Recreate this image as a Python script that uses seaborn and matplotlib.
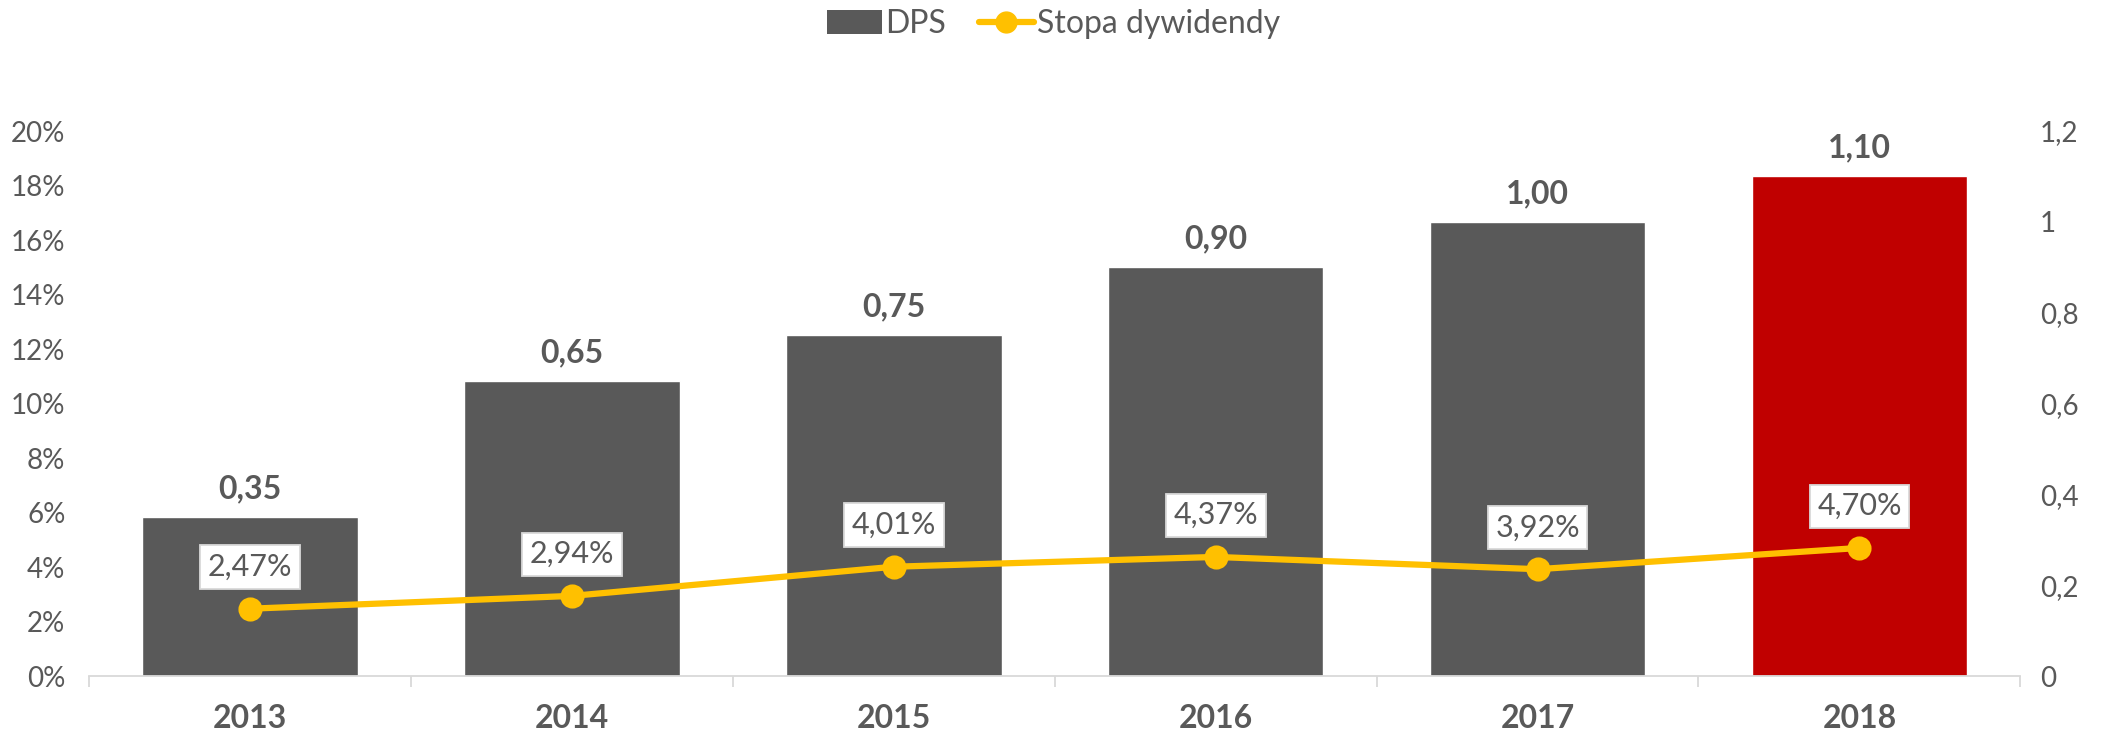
import numpy as np
import pandas as pd
import seaborn as sns
import matplotlib.pyplot as plt
from matplotlib.patches import Patch
from matplotlib.lines import Line2D
from matplotlib.ticker import FuncFormatter, FixedLocator

# data
years = ["2013", "2014", "2015", "2016", "2017", "2018"]
dps = [0.35, 0.65, 0.75, 0.90, 1.00, 1.10]
div_yield = [2.47, 2.94, 4.01, 4.37, 3.92, 4.70]
bar_colors = ["#595959", "#595959", "#595959", "#595959", "#595959", "#C00000"]

TXT = "#595959"
GOLD = "#FFC000"
GRID = "#D9D9D9"

sns.set_theme(style="white")
plt.rcParams["font.family"] = ["Lato", "DejaVu Sans"]

df = pd.DataFrame({"year": years, "dps": dps, "yield": div_yield})

fig = plt.figure(figsize=(21.2, 7.36), dpi=100)
ax = fig.add_axes([0.042, 0.0815, 0.911, 0.7405])

# bars on the (right-hand) DPS axis
sns.barplot(data=df, x="year", y="dps", hue="year", palette=bar_colors,
            legend=False, width=0.67, saturation=1, ax=ax)
ax.set_ylim(0, 1.2)
ax.set_xlim(-0.5, 5.5)
ax.set_xlabel("")
ax.set_ylabel("")

for i, v in enumerate(dps):
    ax.annotate(f"{v:.2f}".replace(".", ","), (i, v), xytext=(0, 10),
                textcoords="offset points", ha="center", va="bottom",
                fontsize=23, fontweight="bold", color=TXT)

# x axis: category labels, tick marks between categories
ax.tick_params(axis="x", which="major", length=0, pad=20, labelsize=23,
               labelcolor=TXT)
for lab in ax.get_xticklabels():
    lab.set_fontweight("bold")
ax.xaxis.set_minor_locator(FixedLocator(np.arange(-0.5, 6, 1)))
ax.tick_params(axis="x", which="minor", length=8, width=1.3, color=GRID,
               bottom=True)
for s in ["left", "right", "top"]:
    ax.spines[s].set_visible(False)
ax.spines["bottom"].set_color(GRID)
ax.spines["bottom"].set_linewidth(1.3)

# dividend yield line on the left axis
ax2 = ax.twinx()
sns.pointplot(data=df, x="year", y="yield", color=GOLD, markers="o",
              markersize=14, linewidth=4.5, ax=ax2)
ax2.set_xlim(-0.5, 5.5)
ax2.set_ylim(0, 20)
ax2.yaxis.tick_left()
ax2.set_yticks(np.arange(0, 21, 2))
ax2.yaxis.set_major_formatter(FuncFormatter(lambda v, p: f"{v:.0f}%"))
ax2.tick_params(axis="y", length=0, pad=17, labelsize=20, labelcolor=TXT)
ax2.set_xlabel("")
ax2.set_ylabel("")
for s in ax2.spines.values():
    s.set_visible(False)

# DPS ticks go to the right (after twinx, which resets them)
ax.yaxis.tick_right()
ax.set_yticks(np.arange(0, 1.21, 0.2))
ax.yaxis.set_major_formatter(FuncFormatter(
    lambda v, p: "0" if abs(v) < 1e-9 else ("1" if abs(v - 1) < 1e-9 else f"{v:.1f}".replace(".", ","))))
ax.tick_params(axis="y", length=0, pad=14, labelsize=20, labelcolor=TXT)

for i, v in enumerate(div_yield):
    ax2.annotate(f"{v:.2f}%".replace(".", ","), (i, v), xytext=(0, 30),
                 textcoords="offset points", ha="center", va="center",
                 fontsize=22, color=TXT,
                 bbox=dict(boxstyle="square,pad=0.25", fc="white", ec=GRID, lw=1.3))

handles = [Patch(facecolor="#595959", edgecolor="none", label="DPS"),
           Line2D([0], [0], color=GOLD, lw=4.5, marker="o", markersize=15,
                  label="Stopa dywidendy")]
fig.legend(handles=handles, loc="center", bbox_to_anchor=(0.497, 0.967),
           ncol=2, frameon=False, fontsize=23, labelcolor=TXT,
           handlelength=1.7, handleheight=0.8, handletextpad=0.1,
           columnspacing=1.05)

fig.savefig("out.png", dpi=100)
